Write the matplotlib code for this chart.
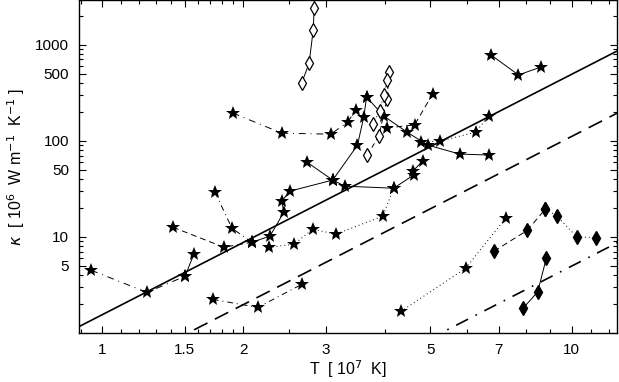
import numpy as np
import matplotlib
matplotlib.use('Agg')
import matplotlib.pyplot as plt
from matplotlib.ticker import FixedLocator, NullFormatter

plt.rcParams['font.family'] = ['Liberation Sans', 'DejaVu Sans']

# reference power laws kappa = C * T^2.5 (T in 1e7 K)
law_slope = 2.5
law_coef = [1.55, 0.35, 0.0157]
law_style = ['-', (0, (9, 5)), (0, (8, 5, 1, 5))]

# star series: (T, kappa, linestyle)
star_series = [
    ([0.948, 1.247, 1.502], [4.50, 2.65, 3.90], (0, (7, 5, 1, 5))),
    ([1.502, 1.569], [3.90, 6.61], '-'),
    ([1.416, 1.818, 2.085], [12.6, 7.81, 8.80], (0, (6, 4))),
    ([1.74, 1.891, 2.085], [29.2, 12.3, 8.80], (0, (6, 4, 1, 4))),
    ([2.085, 2.278, 2.44, 2.414, 2.51, 3.10], [8.80, 10.2, 18.1, 23.5, 29.9, 39.0], '-'),
    ([2.266, 2.562, 2.81, 3.145, 3.96, 4.18], [7.81, 8.39, 12.0, 10.7, 16.4, 32.1], (0, (1, 3))),
    ([1.722, 2.147, 2.665], [2.24, 1.85, 3.22], (0, (6, 4, 1, 4))),
    ([1.899, 2.414, 3.07, 3.34, 3.47], [194, 120, 117, 157, 209], (0, (7, 5, 1, 5))),
    ([2.73, 3.10, 3.50, 3.61, 3.66], [60, 39.0, 90, 177, 285], '-'),
    ([3.66, 3.98, 4.46, 4.94, 5.78, 6.66], [285, 181, 123, 90, 72.7, 71], '-'),
    ([4.04, 4.63, 5.06], [136, 146, 306], (0, (6, 4))),
    ([4.77, 5.24, 6.25, 6.66], [97, 99, 123, 181], (0, (1, 3))),
    ([6.73, 7.71, 8.63], [782, 483, 587], '-'),
    ([3.10, 3.29, 4.18, 4.61, 4.59, 4.82], [39.0, 33.7, 32.1, 44, 48.3, 61.5], '-'),
    ([4.33, 5.95, 7.24], [1.68, 4.72, 15.7], (0, (1, 3))),
]

# open diamond series
open_series = [
    ([2.661, 2.761, 2.817, 2.83], [396, 640, 1422, 2394], '-'),
    ([3.675, 3.886, 4.047, 4.087], [71, 112, 270, 523], (0, (5, 4))),
    ([3.778, 3.904, 3.98, 4.047], [149, 205, 299, 429], (0, (1, 3))),
]

# filled diamond series
filled_series = [
    ([6.835, 8.05, 8.79], [7.10, 11.7, 19.4], (0, (6, 4))),
    ([8.79, 9.30, 10.26, 11.25], [19.4, 16.6, 10.0, 9.86], (0, (1, 3))),
    ([7.89, 8.47, 8.84], [1.82, 2.68, 6.04], '-'),
]

x_major = [1, 1.5, 2, 3, 5, 7, 10]
x_minor = [0.9, 1.1, 1.2, 1.3, 1.4, 1.6, 1.7, 1.8, 1.9, 2.5, 4, 6, 8, 9, 11, 12]
y_major = [5, 10, 50, 100, 500, 1000]


def main():
    '''Draw the conductivity plot.'''
    fig = plt.figure(figsize=(6.19, 3.82), dpi=100)
    ax = fig.add_axes([0.1276, 0.128, 0.8692, 0.871])
    ax.set_xscale('log')
    ax.set_yscale('log')
    ax.set_xlim(0.893, 12.5)
    ax.set_ylim(1.0, 2880)

    tt = np.array([0.8, 13.0])
    for coef, ls in zip(law_coef, law_style):
        ax.plot(tt, coef * tt ** law_slope, color='black', lw=1.2, linestyle=ls)

    for xs, ys, ls in star_series:
        ax.plot(xs, ys, color='black', lw=0.7, linestyle=ls)
    for xs, ys, ls in open_series:
        ax.plot(xs, ys, color='black', lw=0.7, linestyle=ls)
    for xs, ys, ls in filled_series:
        ax.plot(xs, ys, color='black', lw=0.7, linestyle=ls)

    for xs, ys, _ in star_series:
        ax.plot(xs, ys, '*', color='black', ms=10, mew=0, zorder=5)
    for xs, ys, _ in open_series:
        ax.plot(xs, ys, 'd', mfc='white', mec='black', ms=7, mew=0.9, zorder=5)
    for xs, ys, _ in filled_series:
        ax.plot(xs, ys, 'd', color='black', ms=7, zorder=5)

    ax.xaxis.set_major_locator(FixedLocator(x_major))
    ax.xaxis.set_minor_locator(FixedLocator(x_minor))
    ax.set_xticklabels([str(v) for v in x_major])
    ax.xaxis.set_minor_formatter(NullFormatter())
    ax.yaxis.set_major_locator(FixedLocator(y_major))
    ax.set_yticklabels([str(v) for v in y_major])
    ax.yaxis.set_minor_formatter(NullFormatter())

    ax.tick_params(which='both', direction='in', top=True, right=True,
                   labelsize=11, width=0.8)
    ax.tick_params(which='major', length=5, pad=7)
    ax.tick_params(which='minor', length=3)
    for sp in ax.spines.values():
        sp.set_linewidth(1.0)

    ax.set_xlabel(r'T  [ 10$^7$  K]', fontsize=11.5, labelpad=1)
    ax.set_ylabel(r'$\kappa$  [ 10$^6$  W m$^{-1}$  K$^{-1}$ ]', fontsize=11.5,
                  labelpad=6)

    fig.savefig('out.png', dpi=100)


if __name__ == '__main__':
    main()
